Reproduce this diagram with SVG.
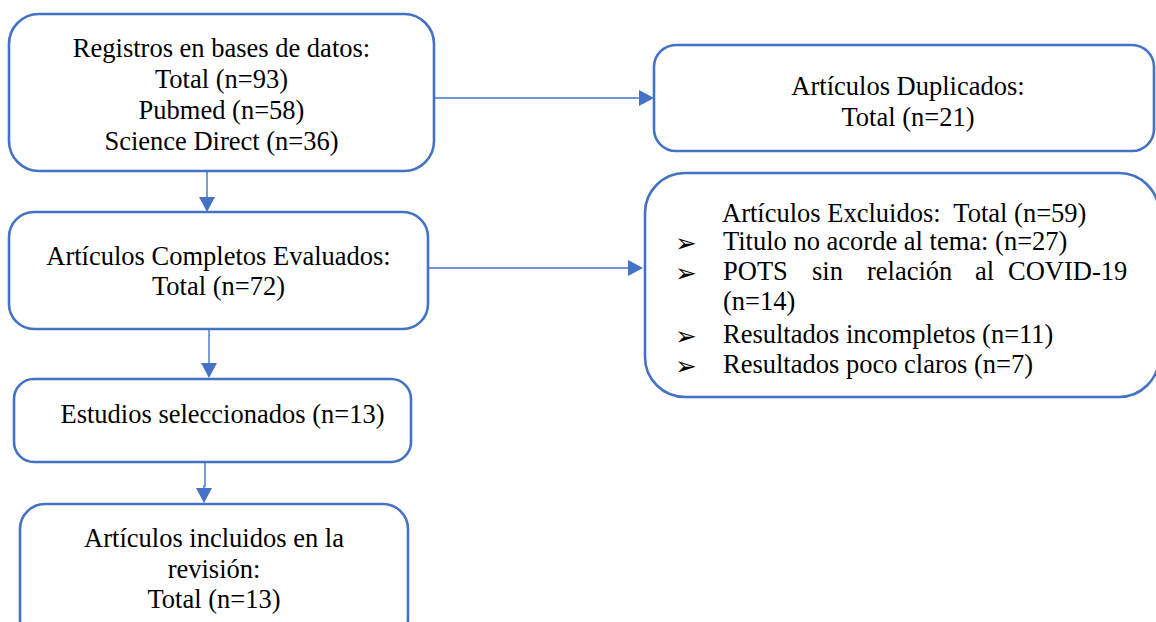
<svg xmlns="http://www.w3.org/2000/svg" width="1156" height="622" viewBox="0 0 1156 622">
<style>
.box{fill:#fff;stroke:#4472C4;stroke-width:2.6}
.t{font-family:"Liberation Serif","Times New Roman",serif;font-size:26.5px;fill:#000}
.c{text-anchor:middle}
.b{font-family:"DejaVu Sans",sans-serif;font-size:26px;font-weight:bold;fill:#000}
.ln{fill:none;stroke:#4472C4;stroke-width:1.4}
.ah{fill:#4472C4}
</style>
<rect width="1156" height="622" fill="#fff"/>
<g id="connectors">
<path class="ln" d="M207,163 V198"/>
<polygon class="ah" points="199,197 215,197 207,212"/>
<path class="ln" d="M434,98 H640"/>
<polygon class="ah" points="639,90 639,106 654,98"/>
<path class="ln" d="M429,268 H629"/>
<polygon class="ah" points="628,260 628,276 643,268"/>
<path class="ln" d="M209,329 V364"/>
<polygon class="ah" points="201,363 217,363 209,378"/>
<path class="ln" d="M205,462 V486 H204 V489"/>
<polygon class="ah" points="196,488 212,488 204,503"/>
</g>
<g id="registros">
<rect class="box" x="9" y="14" width="425" height="157" rx="30"/>
<text class="t c" x="221.5" y="57">Registros en bases de datos:</text>
<text class="t c" x="221.5" y="88">Total (n=93)</text>
<text class="t c" x="221.5" y="119">Pubmed (n=58)</text>
<text class="t c" x="221.5" y="149.5">Science Direct (n=36)</text>
</g>
<g id="duplicados">
<rect class="box" x="654" y="45" width="500" height="106" rx="22"/>
<text class="t c" x="908" y="95">Artículos Duplicados:</text>
<text class="t c" x="908" y="125.5">Total (n=21)</text>
</g>
<g id="completos">
<rect class="box" x="9" y="212" width="419" height="117" rx="25"/>
<text class="t c" x="218.5" y="265">Artículos Completos Evaluados:</text>
<text class="t c" x="218.5" y="294.5">Total (n=72)</text>
</g>
<g id="excluidos">
<rect class="box" x="645" y="173" width="514" height="224" rx="40"/>
<text class="t" x="722" y="222" style="white-space:pre">Artículos Excluidos:  Total (n=59)</text>
<text class="b" x="675" y="252">➢</text>
<text class="t" x="723" y="250">Titulo no acorde al tema: (n=27)</text>
<text class="b" x="675" y="282">➢</text>
<text class="t" y="280"><tspan x="723">POTS</tspan><tspan x="812">sin</tspan><tspan x="867">relación</tspan><tspan x="975">al</tspan><tspan x="1008">COVID-19</tspan></text>
<text class="t" x="723" y="310">(n=14)</text>
<text class="b" x="675" y="345">➢</text>
<text class="t" x="723" y="343">Resultados incompletos (n=11)</text>
<text class="b" x="675" y="375">➢</text>
<text class="t" x="723" y="373">Resultados poco claros (n=7)</text>
</g>
<g id="seleccionados">
<rect class="box" x="14" y="379" width="397" height="83" rx="20"/>
<text class="t c" x="222.5" y="423">Estudios seleccionados (n=13)</text>
</g>
<g id="incluidos">
<rect class="box" x="20" y="504" width="388" height="140" rx="25"/>
<text class="t c" x="214" y="547">Artículos incluidos en la</text>
<text class="t c" x="214" y="577.5">revisión:</text>
<text class="t c" x="214" y="608">Total (n=13)</text>
</g>
</svg>
